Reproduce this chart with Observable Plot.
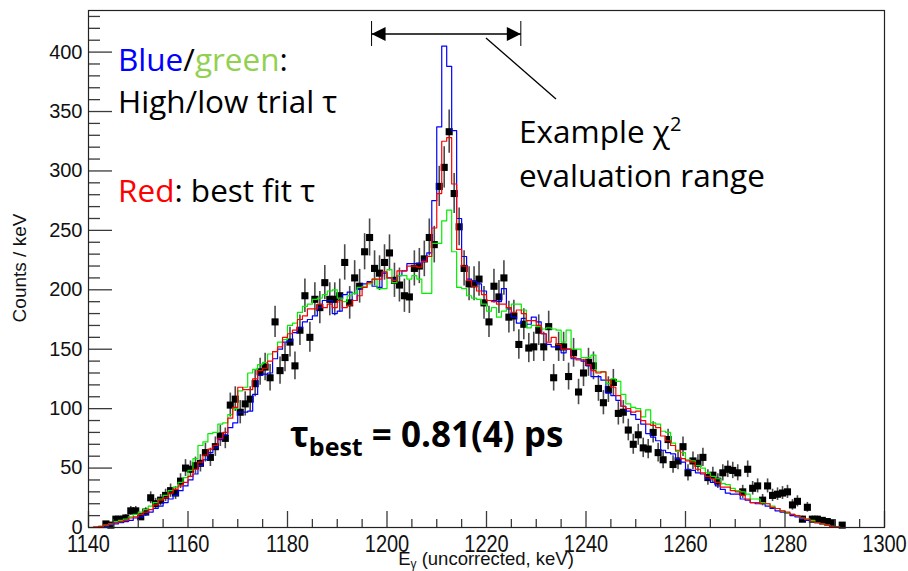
<!DOCTYPE html>
<html><head><meta charset="utf-8">
<script src="https://cdn.jsdelivr.net/npm/d3@7"></script>
<script src="https://cdn.jsdelivr.net/npm/@observablehq/plot@0.6"></script>
<style>
body{margin:0;background:#fff;}
#chart svg{display:block;}
</style></head><body><div id="chart"></div>
<script>
// ---- histogram binning (1 keV bins from 1140 to 1300)
const binStart = 1140;
const binWidth = 1;

// Red: best-fit tau simulation (counts per bin, bins 1140..1299)
const redFit = [
  0, 0.5, 1, 2, 3, 4, 5, 6, 8, 9,
  11, 13, 15, 19, 23, 25, 29, 32, 35, 38,
  43, 49, 55, 61, 66, 69, 75, 80, 92, 101,
  118, 116, 116, 125, 132, 134, 140, 148, 152, 160,
  163, 166, 175, 178, 184, 184, 188, 185, 188, 185,
  191, 185, 187, 191, 195, 202, 206, 209, 209, 215,
  210, 208, 216, 216, 220, 220, 219, 224, 228, 252,
  281, 325, 328, 289, 234, 220, 208, 203, 199, 196,
  191, 190, 188, 188, 185, 181, 183, 180, 174, 174,
  170, 163, 156, 160, 154, 150, 150, 143, 141, 141,
  137, 132, 130, 131, 124, 118, 111, 102, 100, 97,
  98, 90, 87, 86, 84, 77, 73, 69, 65, 58,
  56, 55, 49, 46, 43, 41, 38, 34, 34, 31,
  30, 27, 24, 21, 21, 20, 20, 17, 16, 14,
  13, 11, 10, 8, 7, 5, 4, 3, 2, 1,
  0.5, 0, 0, 0, 0, 0, 0, 0, 0, 0
];
// Blue: high trial tau
const blueHigh = [
  0, 0, 0.5, 1, 2, 3, 4, 5, 6, 8,
  9, 11, 13, 16, 18, 21, 24, 27, 31, 35,
  40, 45, 52, 57, 63, 67, 74, 78, 84, 88,
  97, 97, 98, 112, 128, 129, 130, 142, 150, 156,
  157, 164, 168, 173, 175, 178, 185, 191, 191, 180,
  182, 196, 198, 191, 201, 205, 207, 203, 202, 214,
  210, 209, 212, 216, 222, 222, 222, 225, 231, 275,
  337, 405, 388, 334, 260, 228, 209, 207, 205, 199,
  191, 191, 190, 201, 184, 177, 172, 176, 171, 177,
  173, 163, 154, 152, 152, 147, 150, 142, 142, 140,
  136, 127, 127, 124, 113, 111, 107, 102, 98, 95,
  91, 87, 79, 76, 73, 65, 63, 62, 58, 55,
  49, 48, 46, 45, 41, 38, 35, 32, 29, 28,
  28, 24, 23, 21, 20, 20, 18, 16, 14, 13,
  12, 10, 9, 7, 6, 5, 4, 3, 2, 1,
  0.5, 0, 0, 0, 0, 0, 0, 0, 0, 0
];
// Green: low trial tau
const greenLow = [
  0, 0, 1, 2, 3, 5, 6, 7, 9, 11,
  13, 15, 18, 21, 24, 27, 31, 34, 38, 42,
  48, 58, 69, 72, 79, 80, 87, 88, 95, 100,
  115, 118, 130, 133, 137, 139, 146, 148, 156, 158,
  170, 172, 181, 186, 188, 192, 193, 196, 199, 200,
  193, 190, 195, 197, 202, 203, 205, 209, 201, 201,
  217, 206, 212, 212, 209, 212, 209, 197, 197, 239,
  239, 258, 267, 232, 202, 201, 195, 193, 192, 188,
  182, 185, 177, 182, 185, 188, 188, 183, 168, 170,
  169, 167, 168, 167, 166, 156, 166, 150, 150, 143,
  143, 145, 131, 131, 121, 125, 123, 112, 104, 101,
  100, 93, 99, 88, 87, 81, 80, 71, 64, 63,
  57, 56, 52, 50, 46, 43, 41, 37, 36, 33,
  31, 30, 28, 24, 24, 21, 20, 18, 16, 14,
  12, 11, 10, 8, 7, 6, 4, 3, 2, 1,
  0.5, 0, 0, 0, 0, 0, 0, 0, 0, 0
];

// Measured data: counts per 1 keV bin, first bin starts at 1143 keV
const dataStart = 1143;
const counts = [
  3, 2, 7, 7, 8, 14, 14,
  9, 13, 25, 20, 23, 27, 31, 29, 39, 50,
  49, 52, 54, 63, 59, 68, 77, 75, 103, 108,
  97, 104, 108, 121, 131, 135, 126, 173, 132, 143,
  156, 136, 166, 195, 160, 192, 185, 206, 192, 192,
  195, 223, 189, 210, 203, 232, 244, 218, 214, 223,
  231, 208, 204, 195, 194, 218, 220, 226, 244, 238,
  287, 303, 333, 281, 253, 218, 205, 205, 209, 189,
  173, 203, 194, 210, 177, 178, 154, 171, 151, 152,
  166, 152, 169, 126, 152, 152, 127, 147, 114, 130,
  139, 136, 117, 105, 116, 122, 96, 97, 82, 70,
  78, 67, 66, 80, 63, 57, 74, 53, 56, 68,
  46, 56, 54, 59, 42, 44, 39, 46, 49, 48,
  46, 30, 49, 33, 35, 23, 35, 27, 28, 29,
  30, 19, 22, 7, 17, 7, 7, 6, 5, 4,
  null, 2
];
const errors = [
  1.7, 1.4, 2.6, 2.6, 2.8, 3.7, 3.7,
  3.0, 3.6, 5.0, 4.5, 4.8, 5.2, 5.6, 5.4, 6.2, 7.1,
  7.0, 7.2, 7.3, 7.9, 7.7, 8.2, 8.8, 8.7, 10.1, 10.4,
  9.8, 10.2, 10.4, 11.0, 11.4, 11.6, 11.2, 13.2, 11.5, 12.0,
  12.5, 11.7, 12.9, 14.0, 12.6, 13.9, 13.6, 14.4, 13.9, 13.9,
  14.0, 14.9, 13.7, 14.5, 14.2, 15.2, 15.6, 14.8, 14.6, 14.9,
  15.2, 14.4, 14.3, 14.0, 13.9, 14.8, 14.8, 15.0, 15.6, 15.4,
  16.9, 17.4, 18.2, 16.8, 15.9, 14.8, 14.3, 14.3, 14.5, 13.7,
  13.2, 14.2, 13.9, 14.5, 13.3, 13.3, 12.4, 13.1, 12.3, 12.3,
  12.9, 12.3, 13.0, 11.2, 12.3, 12.3, 11.3, 12.1, 10.7, 11.4,
  11.8, 11.7, 10.8, 10.2, 10.8, 11.0, 9.8, 9.8, 9.1, 8.4,
  8.8, 8.2, 8.1, 8.9, 7.9, 7.5, 8.6, 7.3, 7.5, 8.2,
  6.8, 7.5, 7.3, 7.7, 6.5, 6.6, 6.2, 6.8, 7.0, 6.9,
  6.8, 5.5, 7.0, 5.7, 5.9, 4.8, 5.9, 5.2, 5.3, 5.4,
  5.5, 4.4, 4.7, 2.6, 4.1, 2.6, 2.6, 2.4, 2.2, 2.0,
  null, 1.4
];

// Axis ticks
const xMajorTicks = [1140, 1160, 1180, 1200, 1220, 1240, 1260, 1280, 1300];
const xMinorTicks = [1145, 1150, 1155, 1165, 1170, 1175, 1185, 1190, 1195, 1205, 1210, 1215,
  1225, 1230, 1235, 1245, 1250, 1255, 1265, 1270, 1275, 1285, 1290, 1295];
const yMajorTicks = [0, 50, 100, 150, 200, 250, 300, 350, 400];
const yMinorTicks = [10, 20, 30, 40, 60, 70, 80, 90, 110, 120, 130, 140, 160, 170, 180, 190,
  210, 220, 230, 240, 260, 270, 280, 290, 310, 320, 330, 340, 360, 370, 380, 390, 410, 420, 430];
const xDomain = [1140, 1300];
const yDomain = [0, 435];
// Example chi^2 evaluation range (keV)
const chiRange = [1197, 1227];

// ---- build tables
function histPoints(vals) {
  const pts = vals.map((v, i) => ({x: binStart + i * binWidth, y: v}));
  pts.push({x: binStart + vals.length * binWidth, y: vals[vals.length - 1]});
  return pts;
}
const dataPts = counts.map((c, i) => ({x: dataStart + (i + 0.5) * binWidth, c, e: errors[i]}))
  .filter(d => d.c != null);

const W = 908, H = 571;
const mL = 88, mR = 24, mT = 10, mB = 44;
const plotW = W - mL - mR, plotH = H - mT - mB;
const tickCol = "#3a3a3a";

const plot = Plot.plot({
  width: W, height: H,
  marginLeft: mL, marginRight: mR, marginTop: mT, marginBottom: mB,
  x: {domain: xDomain},
  y: {domain: yDomain},
  style: {fontFamily: "'Liberation Sans', Arial, sans-serif", background: "white", overflow: "visible"},
  marks: [
    Plot.ruleX(dataPts, {x: "x", y1: d => d.c - d.e, y2: d => d.c + d.e, stroke: "#4a4a4a", strokeWidth: 1.6}),
    Plot.dot(dataPts, {x: "x", y: "c", symbol: "square", r: 4, fill: "black", stroke: "none"}),
    Plot.line(histPoints(blueHigh), {x: "x", y: "y", curve: "step-after", stroke: "#0000ff", strokeWidth: 1.2}),
    Plot.line(histPoints(greenLow), {x: "x", y: "y", curve: "step-after", stroke: "#00f000", strokeWidth: 1.2}),
    Plot.line(histPoints(redFit), {x: "x", y: "y", curve: "step-after", stroke: "#ff0000", strokeWidth: 1.2}),
    Plot.tickY(yMajorTicks, {y: d => d, insetRight: plotW - 24, stroke: tickCol, strokeWidth: 1.3}),
    Plot.tickY(yMinorTicks, {y: d => d, insetRight: plotW - 12, stroke: tickCol, strokeWidth: 1.3}),
    Plot.tickX(xMajorTicks, {x: d => d, insetTop: plotH - 16, stroke: tickCol, strokeWidth: 1.3}),
    Plot.tickX(xMinorTicks, {x: d => d, insetTop: plotH - 8, stroke: tickCol, strokeWidth: 1.3}),
    Plot.axisY(yMajorTicks, {tickSize: 0, tickPadding: 6, fontSize: 20, fill: "#111", label: null, tickFormat: d => String(d)}),
    Plot.axisX(xMajorTicks, {tickSize: 0, tickPadding: 8, fontSize: 20, fill: "#111", label: null, tickFormat: d => String(d)}),
    Plot.frame({stroke: "#222", strokeWidth: 1.2})
  ]
});
document.getElementById("chart").appendChild(plot);

// ---- stretch x tick labels vertically as in the reference rendering
const svg = d3.select(plot);
svg.selectAll('g[aria-label="x-axis tick label"] text').each(function() {
  const t = this.getAttribute("transform") || "";
  this.setAttribute("transform", t + " scale(1,1.15)");
});

// ---- annotations
const sx = plot.scale("x");
const ann = svg.append("g").attr("font-family", "'Open Sans', Lato, sans-serif").attr("font-size", 31.5)
  .attr("text-anchor", "start");

const t1 = ann.append("text").attr("x", 118).attr("y", 71);
t1.append("tspan").attr("fill", "#0000ff").text("Blue");
t1.append("tspan").attr("fill", "#000").text("/");
t1.append("tspan").attr("fill", "#92d050").text("green");
t1.append("tspan").attr("fill", "#000").text(":");
ann.append("text").attr("x", 118).attr("y", 113).attr("fill", "#000").text("High/low trial τ");
const t3 = ann.append("text").attr("x", 118).attr("y", 202);
t3.append("tspan").attr("fill", "#ff0000").text("Red");
t3.append("tspan").attr("fill", "#000").text(": best fit τ");

const t4 = ann.append("text").attr("x", 519).attr("y", 143).attr("fill", "#000");
t4.append("tspan").text("Example χ");
t4.append("tspan").attr("font-size", 20).attr("dy", -12).text("2");
ann.append("text").attr("x", 519).attr("y", 187).attr("fill", "#000").text("evaluation range");

const t5 = ann.append("text").attr("x", 290).attr("y", 447).attr("font-weight", "bold").attr("font-size", 35).attr("fill", "#000");
t5.append("tspan").text("τ");
t5.append("tspan").attr("font-size", 25).attr("dy", 9).text("best");
t5.append("tspan").attr("dy", -9).text(" = 0.81(4) ps");

// chi^2 range arrow
const ax1 = sx.apply(chiRange[0]), ax2 = sx.apply(chiRange[1]);
const ay = 34;
const arr = svg.append("g").attr("stroke", "#000").attr("fill", "#000");
arr.append("line").attr("x1", ax1).attr("x2", ax2).attr("y1", ay).attr("y2", ay).attr("stroke-width", 1.3);
arr.append("line").attr("x1", ax1).attr("x2", ax1).attr("y1", 21).attr("y2", 46).attr("stroke-width", 1);
arr.append("line").attr("x1", ax2).attr("x2", ax2).attr("y1", 21).attr("y2", 46).attr("stroke-width", 1);
arr.append("path").attr("stroke", "none").attr("d", `M${ax1},${ay}L${ax1 + 14},${ay - 7}L${ax1 + 14},${ay + 7}Z`);
arr.append("path").attr("stroke", "none").attr("d", `M${ax2},${ay}L${ax2 - 14},${ay - 7}L${ax2 - 14},${ay + 7}Z`);
arr.append("line").attr("x1", 486).attr("y1", 38).attr("x2", 556).attr("y2", 99).attr("stroke-width", 1.3);

// axis titles
const ttl = svg.append("g").attr("font-family", "'Liberation Sans', Arial, sans-serif").attr("fill", "#111");
const xt = ttl.append("text").attr("x", 486).attr("y", 565).attr("text-anchor", "middle").attr("font-size", 18.5);
xt.append("tspan").text("E");
xt.append("tspan").attr("font-size", 12).attr("dy", 3).text("γ");
xt.append("tspan").attr("dy", -3).text(" (uncorrected, keV)");
ttl.append("text").attr("transform", "translate(26,268) rotate(-90)").attr("text-anchor", "middle")
  .attr("font-size", 19).text("Counts / keV");
</script>
</body></html>
